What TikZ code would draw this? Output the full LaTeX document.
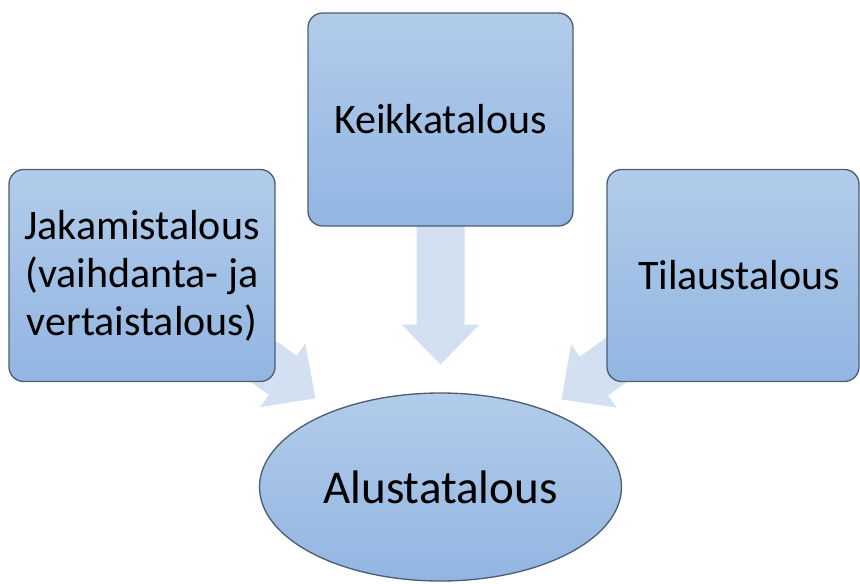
\documentclass[tikz,border=0pt]{standalone}
\usepackage{fontspec}
\setmainfont{Carlito}
\usetikzlibrary{calc,shapes.geometric}
\pgfdeclarelayer{background}
\pgfsetlayers{background,main}
\definecolor{boxtop}{HTML}{B2CCEA}
\definecolor{boxbot}{HTML}{92B5E2}
\definecolor{boxline}{HTML}{4E5E70}
\definecolor{arrowfill}{HTML}{D3E0F2}
\tikzset{
  boxnode/.style={draw=boxline, line width=1pt, rounded corners=11pt,
    top color=boxtop, bottom color=boxbot, align=center, inner sep=0pt,
    font=\fontsize{31.5pt}{36pt}\selectfont},
  ellnode/.style={ellipse, draw=boxline, line width=1pt,
    top color=boxtop, bottom color=boxbot, inner sep=0pt,
    font=\fontsize{35.3pt}{40pt}\selectfont},
  arrowshape/.style={fill=arrowfill, draw=none}
}
% #1 from node, #2 to node, #3 start distance, #4 tip distance
\newcommand\blockarr[4]{%
  \path ($(#1)!#4!(#2)$) coordinate (tp)
        ($(#1)!#4-30pt!(#2)$) coordinate (hb)
        ($(#1)!#3!(#2)$) coordinate (sb);
  \fill[arrowshape] ($(sb)!18pt!90:(tp)$) -- ($(hb)!18pt!90:(tp)$)
    -- ($(hb)!29.25pt!90:(tp)$) -- (tp) -- ($(hb)!29.25pt!-90:(tp)$)
    -- ($(hb)!18pt!-90:(tp)$) -- ($(sb)!18pt!-90:(tp)$) -- cycle;}
\begin{document}
\begin{tikzpicture}[x=0.75pt,y=-0.75pt]
\useasboundingbox (0,0) rectangle (860,583);
\node[boxnode, minimum width=199.5pt, minimum height=159pt] (L) at (142,275.5)
  {Jakamistalous\\(vaihdanta- ja\\vertaistalous)};
\node[boxnode, minimum width=198.75pt, minimum height=159.75pt] (M) at (440.5,119.5)
  {Keikkatalous};
\node[boxnode, minimum width=189pt, minimum height=159pt] (R) at (733,275.5)
  {\hspace*{9pt}Tilaustalous};
\node[ellnode, minimum width=271.5pt, minimum height=141pt] (E) at (440.5,487)
  {Alustatalous};
\begin{pgfonlayer}{background}
\blockarr{L.center}{E.center}{60pt}{159.4pt}
\blockarr{M.center}{E.center}{60pt}{183.75pt}
\blockarr{R.center}{E.center}{60pt}{158.7pt}
\end{pgfonlayer}
\end{tikzpicture}
\end{document}
